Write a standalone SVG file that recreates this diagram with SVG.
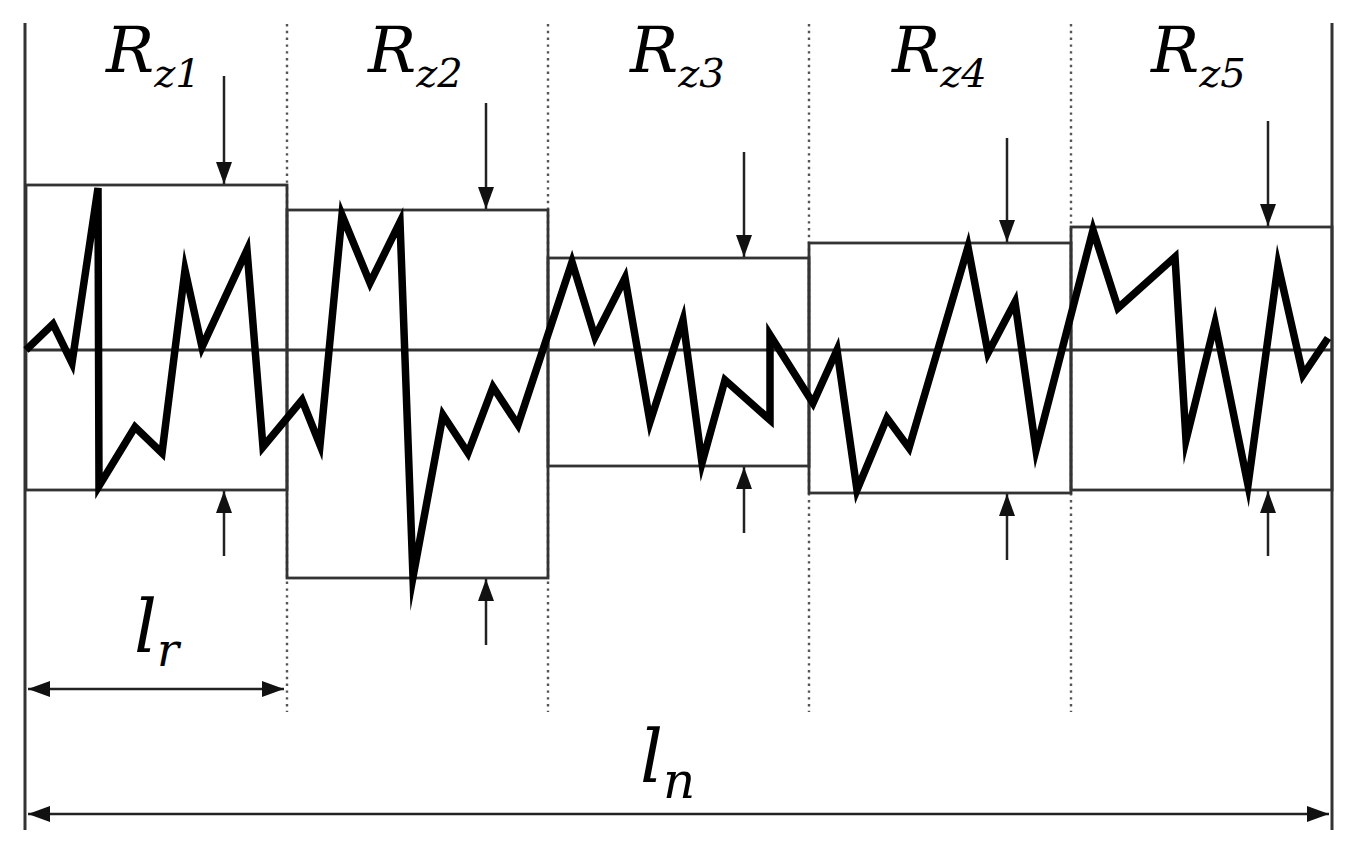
<svg xmlns="http://www.w3.org/2000/svg" width="1364" height="860" viewBox="0 0 1364 860">
<style>
.frame{stroke:#333;stroke-width:3;fill:none}
.box{stroke:#333;stroke-width:2.8;fill:none}
.dot{stroke:#555;stroke-width:2.4;stroke-dasharray:2.4 4.4;fill:none}
.arr{stroke:#222;stroke-width:2.5;fill:none}
.prof{stroke:#000;stroke-width:7.5;fill:none;stroke-linejoin:miter;stroke-miterlimit:10}
.lbl{font-family:"DejaVu Serif","Liberation Serif",serif;font-style:italic;fill:#000}
</style>
<defs>
<marker id="ah" viewBox="0 0 22 16" refX="22" refY="8" markerWidth="22" markerHeight="16" markerUnits="userSpaceOnUse" orient="auto-start-reverse">
<path d="M0,0 L22,8 L0,16 z" fill="#111"/>
</marker>
</defs>
<rect width="1364" height="860" fill="#fff"/>
<g id="frame">
<line class="frame" x1="25" y1="23" x2="25" y2="830"/>
<line class="frame" x1="1332" y1="23" x2="1332" y2="830"/>
<line class="dot" x1="287" y1="24" x2="287" y2="712"/>
<line class="dot" x1="548" y1="24" x2="548" y2="712"/>
<line class="dot" x1="809" y1="24" x2="809" y2="712"/>
<line class="dot" x1="1071" y1="24" x2="1071" y2="712"/>
</g>
<g id="boxes">
<rect id="box1" class="box" x="26" y="185" width="261" height="305"/>
<rect id="box2" class="box" x="287" y="210" width="261" height="368"/>
<rect id="box3" class="box" x="548" y="258" width="261" height="208"/>
<rect id="box4" class="box" x="809" y="243" width="262" height="250"/>
<rect id="box5" class="box" x="1071" y="227" width="261" height="263"/>
</g>
<g id="meanline">
<line class="box" x1="25" y1="350" x2="1332" y2="350"/>
</g>
<g id="profile">
<polyline class="prof" points="26,350 53,324 72,363 98,188 99,486 135,427 162,453 185,270 202,347 247,250 263,447 302,400 320,445 342,215 370,283 400,222 413,577 443,415 468,453 493,387 518,425 572,262 595,337 625,278 650,422 683,320 702,463 725,380 770,420 770,335 813,403 837,350 857,490 887,418 909,448 968,247 988,353 1015,302 1036,450 1093,230 1118,308 1175,257 1186,440 1215,323 1248,485 1278,265 1303,375 1328,338"/>
</g>
<g id="connectors">
<line class="arr" x1="224" y1="76" x2="224" y2="184" marker-end="url(#ah)"/>
<line class="arr" x1="486" y1="103" x2="486" y2="209" marker-end="url(#ah)"/>
<line class="arr" x1="744" y1="152" x2="744" y2="257" marker-end="url(#ah)"/>
<line class="arr" x1="1007" y1="138" x2="1007" y2="242" marker-end="url(#ah)"/>
<line class="arr" x1="1268" y1="121" x2="1268" y2="226" marker-end="url(#ah)"/>
<line class="arr" x1="224" y1="556" x2="224" y2="491" marker-end="url(#ah)"/>
<line class="arr" x1="486" y1="645" x2="486" y2="579" marker-end="url(#ah)"/>
<line class="arr" x1="744" y1="533" x2="744" y2="467" marker-end="url(#ah)"/>
<line class="arr" x1="1007" y1="560" x2="1007" y2="494" marker-end="url(#ah)"/>
<line class="arr" x1="1268" y1="556" x2="1268" y2="491" marker-end="url(#ah)"/>
<line class="arr" x1="28" y1="689" x2="284" y2="689" marker-start="url(#ah)" marker-end="url(#ah)"/>
<line class="arr" x1="28" y1="814" x2="1329" y2="814" marker-start="url(#ah)" marker-end="url(#ah)"/>
</g>
<g id="labels">
<text class="lbl" x="106" y="72" font-size="64">R<tspan font-size="40" dy="15">z1</tspan></text>
<text class="lbl" x="368" y="72" font-size="64">R<tspan font-size="40" dy="15">z2</tspan></text>
<text class="lbl" x="630" y="72" font-size="64">R<tspan font-size="40" dy="15">z3</tspan></text>
<text class="lbl" x="892" y="72" font-size="64">R<tspan font-size="40" dy="15">z4</tspan></text>
<text class="lbl" x="1151" y="72" font-size="64">R<tspan font-size="40" dy="15">z5</tspan></text>
<text class="lbl" x="134" y="652" font-size="72">l<tspan font-size="46" dy="14">r</tspan></text>
<text class="lbl" x="640" y="782" font-size="72">l<tspan font-size="50" dy="16">n</tspan></text>
</g>
</svg>
